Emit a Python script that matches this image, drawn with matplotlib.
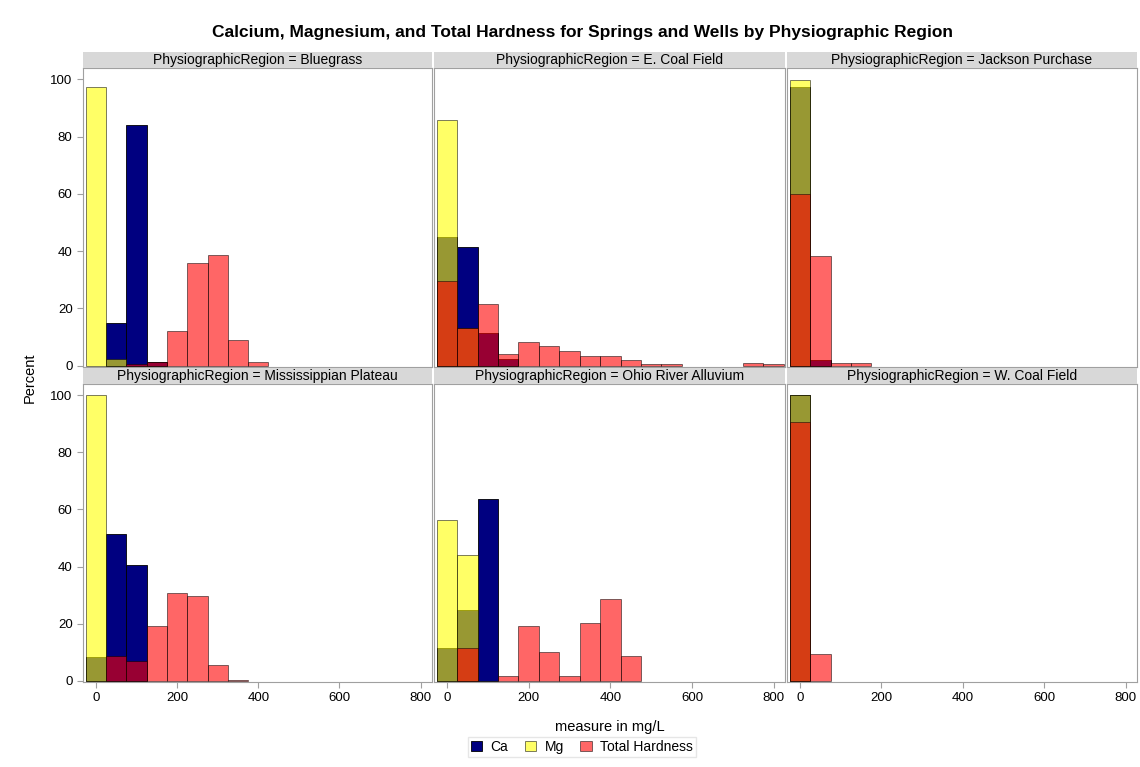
import numpy as np
import matplotlib
matplotlib.use("Agg")
import matplotlib.pyplot as plt
from matplotlib.patches import Rectangle, Patch

plt.rcParams['font.family'] = ['Liberation Sans', 'DejaVu Sans']

# bin midpoints, mg/L (bin width 50)
bin_mid = np.arange(0, 850, 50)
bin_width = 50

regions = ["Bluegrass", "E. Coal Field", "Jackson Purchase",
           "Mississippian Plateau", "Ohio River Alluvium", "W. Coal Field"]

# percent of samples per bin, starting at bin 0
ca_pct = {
    "Bluegrass": [0, 14.8, 84.0, 1.2],
    "E. Coal Field": [44.9, 41.4, 11.4, 2.3],
    "Jackson Purchase": [97.5, 1.8],
    "Mississippian Plateau": [8.1, 51.5, 40.5],
    "Ohio River Alluvium": [11.5, 24.8, 63.7],
    "W. Coal Field": [100.0],
}
mg_pct = {
    "Bluegrass": [97.4, 2.3],
    "E. Coal Field": [86.0, 13.0],
    "Jackson Purchase": [99.8],
    "Mississippian Plateau": [100.0],
    "Ohio River Alluvium": [56.2, 44.0],
    "W. Coal Field": [100.0],
}
th_pct = {
    "Bluegrass": [0, 0, 0.6, 1.2, 12.2, 35.8, 38.5, 9.1, 1.4],
    "E. Coal Field": [29.5, 13.0, 21.6, 4.1, 8.4, 6.8, 5.0, 3.2, 3.2, 2.1,
                      0.6, 0.6, 0, 0, 0, 0.8, 0.5],
    "Jackson Purchase": [59.8, 38.2, 1.0, 1.0],
    "Mississippian Plateau": [0, 8.5, 6.7, 19.0, 30.8, 29.7, 5.5, 0.2],
    "Ohio River Alluvium": [0, 11.4, 0, 1.7, 19.0, 10.0, 1.7, 20.1, 28.5, 8.5],
    "W. Coal Field": [90.8, 9.3],
}

series = [("Ca", ca_pct, "#000080", 1.0),
          ("Mg", mg_pct, "#ffff00", 0.6),
          ("Total Hardness", th_pct, "#ff0000", 0.6)]

W, H = 1140, 767
fig = plt.figure(figsize=(W / 100, H / 100), dpi=100)

col_x = [(83, 432), (434, 785), (787, 1137)]
row_y = [(52, 68, 367), (368, 384, 682)]   # header top, plot top, plot bottom


def px_axes(x0, x1, y0, y1):
    return fig.add_axes([x0 / W, 1 - y1 / H, (x1 - x0) / W, (y1 - y0) / H])


for i, reg in enumerate(regions):
    r, c = divmod(i, 3)
    x0, x1 = col_x[c]
    hy, ty, by = row_y[r]
    ax = px_axes(x0, x1, ty, by)

    for name, data, color, alpha in series:
        vals = np.zeros(len(bin_mid))
        v = data[reg]
        vals[:len(v)] = v
        keep = vals > 0
        ax.bar(bin_mid[keep], vals[keep], width=bin_width, color=color, alpha=alpha,
               edgecolor="#000000", linewidth=0.6)

    ax.set_xlim(-32, 828)
    ax.set_ylim(-0.5, 104)
    for s in ax.spines.values():
        s.set_color("#a0a0a0")
        s.set_linewidth(0.8)
    ax.tick_params(colors="#a0a0a0", labelcolor="#000000", labelsize=9.5,
                   length=4, width=0.8)
    ax.set_xticks([0, 200, 400, 600, 800])
    ax.set_yticks([0, 20, 40, 60, 80, 100])
    if c != 0:
        ax.tick_params(axis="y", left=False, labelleft=False)
    if r == 0:
        ax.tick_params(axis="x", bottom=False, labelbottom=False)

    # header strip
    hax = px_axes(x0, x1, hy, ty)
    hax.add_patch(Rectangle((0, 0), 1, 1, transform=hax.transAxes,
                            facecolor="#d8d8d8", edgecolor="none"))
    hax.set_xlim(0, 1)
    hax.set_ylim(0, 1)
    hax.axis("off")
    hax.text(0.5, 0.5, "PhysiographicRegion = " + reg, ha="center", va="center",
             fontsize=10)

fig.text(582 / W, 1 - 33 / H,
         "Calcium, Magnesium, and Total Hardness for Springs and Wells by Physiographic Region",
         ha="center", va="center", fontsize=12.5, fontweight="bold",
         family=['Liberation Sans Narrow', 'Liberation Sans', 'DejaVu Sans'])
fig.text(30 / W, 1 - 378 / H, "Percent", rotation=90, ha="center", va="center",
         fontsize=10.5)
fig.text(610 / W, 1 - 727 / H, "measure in mg/L", ha="center", va="center",
         fontsize=10.5)

handles = [Patch(facecolor=col, alpha=a if a < 1 else 1, edgecolor="#000000",
                 linewidth=0.6, label=n) for n, _, col, a in series]
fig.legend(handles=handles, loc="center", bbox_to_anchor=(582 / W, 1 - 747 / H),
           ncol=3, frameon=True, fontsize=10, handlelength=0.8, handleheight=0.8,
           handletextpad=0.6, columnspacing=1.2, borderpad=0.25,
           edgecolor="#e0e0e0", fancybox=False)

fig.savefig("out.png", dpi=100)
